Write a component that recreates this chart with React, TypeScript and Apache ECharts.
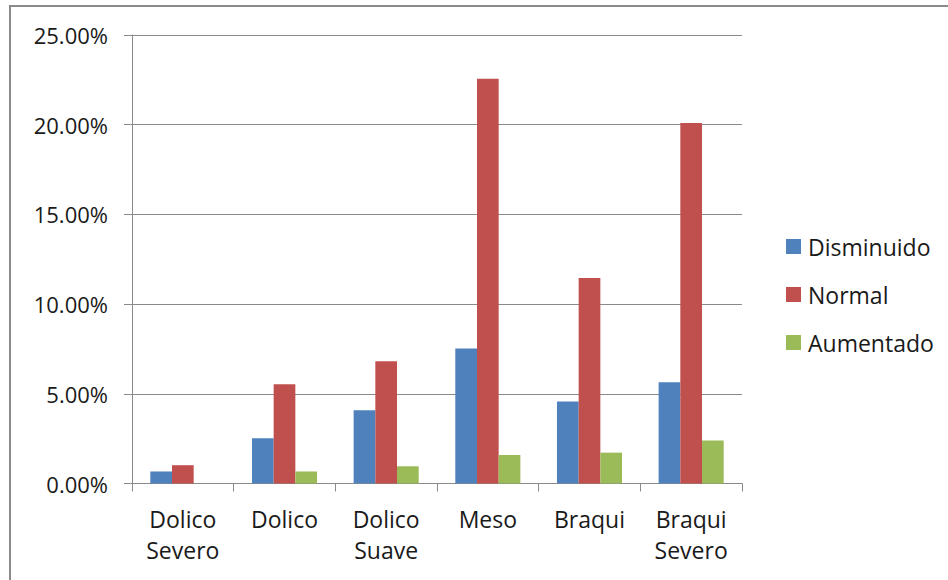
import React, { useEffect, useRef } from "react";
import * as echarts from "echarts";

const categories = ["Dolico\nSevero", "Dolico", "Dolico\nSuave", "Meso", "Braqui", "Braqui\nSevero"];
const seriesNames = ["Disminuido", "Normal", "Aumentado"];
const disminuido = [0.67, 2.52, 4.08, 7.52, 4.57, 5.65];
const normal = [1.02, 5.53, 6.81, 22.56, 11.45, 20.09];
const aumentado = [0, 0.67, 0.96, 1.59, 1.72, 2.39];
const colors = ["#4F81BD", "#C0504D", "#9BBB59"];

const FONT = "'Open Sans', 'Noto Sans', sans-serif";
const AXIS_GREY = "#8a8a8a";

export default function App() {
  const ref = useRef<HTMLDivElement>(null);

  useEffect(() => {
    if (!ref.current) return;
    const chart = echarts.init(ref.current, undefined, { renderer: "svg" });
    const values = [disminuido, normal, aumentado];
    chart.setOption({
      animation: false,
      backgroundColor: "#ffffff",
      color: colors,
      textStyle: { fontFamily: FONT },
      graphic: [
        {
          type: "rect",
          shape: { x: 10, y: 6, width: 1200, height: 1200 },
          style: { fill: "none", stroke: AXIS_GREY, lineWidth: 2 },
          silent: true,
        },
      ],
      grid: { left: 132, top: 35, width: 610, height: 448.5 },
      legend: {
        orient: "vertical",
        left: 781,
        top: 230,
        icon: "rect",
        itemWidth: 15,
        itemHeight: 15,
        itemGap: 25,
        data: seriesNames,
        textStyle: {
          fontFamily: FONT,
          fontSize: 23,
          lineHeight: 23,
          color: "#1a1a1a",
          padding: [0, 0, 0, 2],
        },
      },
      xAxis: {
        type: "category",
        data: categories,
        axisLine: { show: true, lineStyle: { color: AXIS_GREY, width: 1 } },
        axisTick: { show: true, length: 8, alignWithLabel: false, lineStyle: { color: AXIS_GREY } },
        axisLabel: {
          interval: 0,
          margin: 20,
          fontFamily: FONT,
          fontSize: 23,
          lineHeight: 31,
          color: "#1a1a1a",
        },
      },
      yAxis: {
        type: "value",
        min: 0,
        max: 25,
        interval: 5,
        axisLine: { show: true, lineStyle: { color: AXIS_GREY, width: 1 } },
        axisTick: { show: true, length: 8, lineStyle: { color: AXIS_GREY } },
        splitLine: { show: true, lineStyle: { color: AXIS_GREY, width: 1 } },
        axisLabel: {
          margin: 24,
          fontFamily: FONT,
          fontSize: 22,
          color: "#1a1a1a",
          formatter: (v: number) => v.toFixed(2) + "%",
        },
      },
      series: seriesNames.map((name, i) => ({
        name,
        type: "bar",
        data: values[i],
        barGap: "0%",
        barCategoryGap: "36%",
        itemStyle: { color: colors[i] },
      })),
    });
    return () => chart.dispose();
  }, []);

  return (
    <div
      ref={ref}
      style={{ position: "fixed", left: 0, top: 0, width: 948, height: 580 }}
    />
  );
}
